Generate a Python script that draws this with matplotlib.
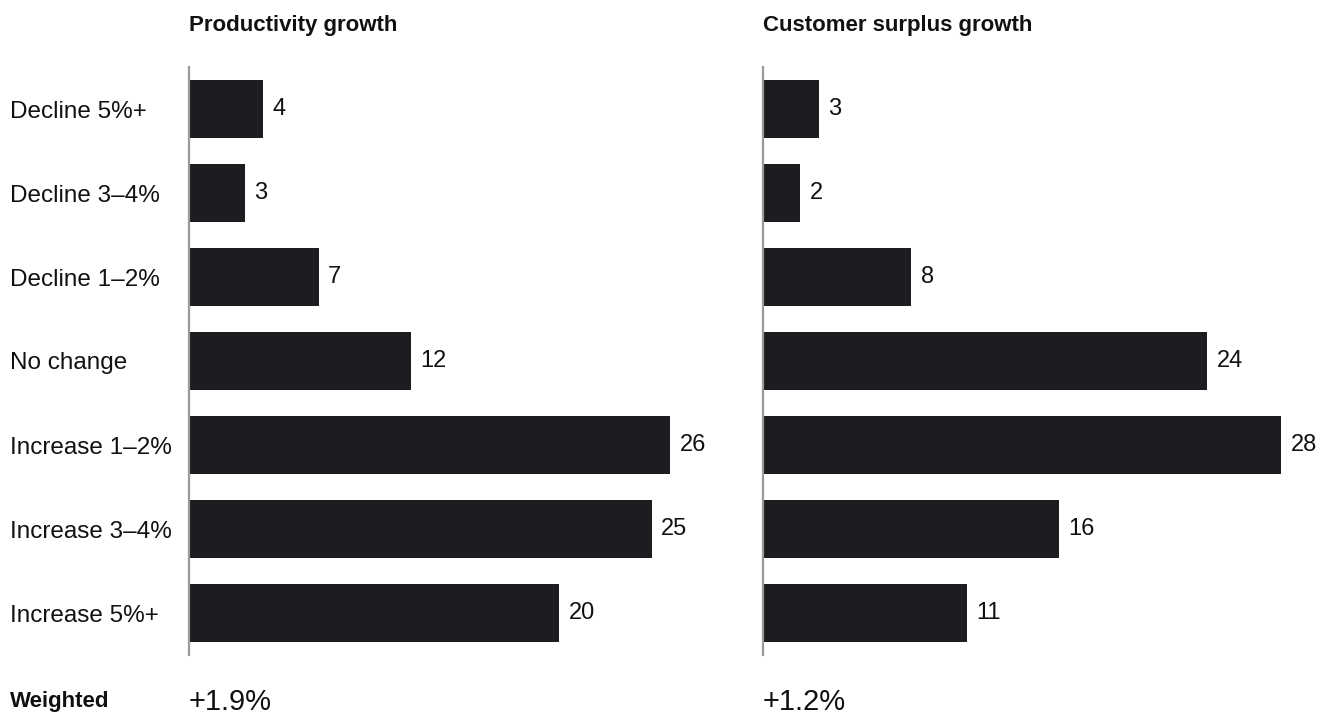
import matplotlib
matplotlib.use('Agg')
import matplotlib.pyplot as plt

plt.rcParams['font.family'] = ['Liberation Sans', 'DejaVu Sans']

categories = ['Decline 5%+', 'Decline 3\u20134%', 'Decline 1\u20132%', 'No change',
              'Increase 1\u20132%', 'Increase 3\u20134%', 'Increase 5%+']
productivity = [4, 3, 7, 12, 26, 25, 20]
surplus = [3, 2, 8, 24, 28, 16, 11]
titles = ['Productivity growth', 'Customer surplus growth']
weighted = ['+1.9%', '+1.2%']

bar_color = '#1b1d20'
W, H = 1332, 716
fig = plt.figure(figsize=(W / 100, H / 100), dpi=100)

ax_bottom = 1 - 655 / H
ax_height = (655 - 67) / H
lefts = [189 / W, 763 / W]
width = 555 / W

for k, vals in enumerate([productivity, surplus]):
    ax = fig.add_axes([lefts[k], ax_bottom, width, ax_height])
    y = list(range(len(categories)))
    ax.barh(y, vals, height=0.69, color=bar_color)
    ax.set_xlim(0, 30)
    ax.set_ylim(len(categories) - 0.5, -0.5)
    for s in ['top', 'right', 'bottom']:
        ax.spines[s].set_visible(False)
    ax.spines['left'].set_color('#9a9a9a')
    ax.spines['left'].set_linewidth(1.6)
    ax.set_xticks([])
    ax.tick_params(axis='y', length=0, pad=0)
    if k == 0:
        ax.set_yticks(y)
        ax.set_yticklabels(categories, fontsize=17.5, color='#111111')
        for lab in ax.get_yticklabels():
            lab.set_horizontalalignment('left')
            lab.set_x(-179 / 555)
    else:
        ax.set_yticks([])
    for yi, v in zip(y, vals):
        ax.annotate(str(v), (v, yi), xytext=(7, 0), textcoords='offset points',
                    va='center', ha='left', fontsize=17, color='#111111')
    fig.text(lefts[k], 1 - 26 / H, titles[k], fontsize=16, fontweight='bold',
             va='center', ha='left', color='#111111')
    fig.text(lefts[k], 1 - 702 / H, weighted[k], fontsize=21, va='center',
             ha='left', color='#111111')

fig.text(10 / W, 1 - 702 / H, 'Weighted', fontsize=16, fontweight='bold',
         va='center', ha='left', color='#111111')

fig.savefig('out.png', dpi=100)
